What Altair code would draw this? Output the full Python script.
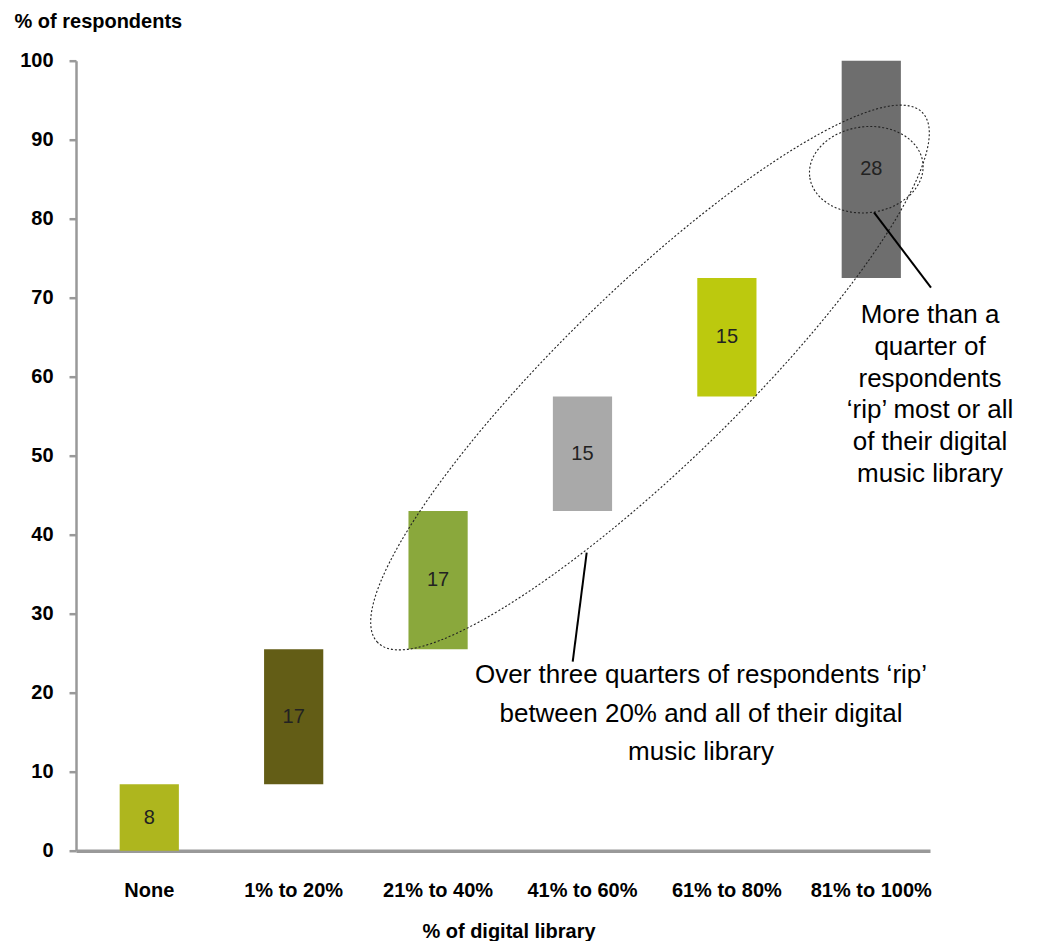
import altair as alt
import pandas as pd

# ---- data ----
categories = ["None", "1% to 20%", "21% to  40%", "41% to 60%", "61% to 80%", "81% to 100%"]
shares = [8.4, 17.1, 17.5, 14.5, 15.0, 27.5]
labels = ["8", "17", "17", "15", "15", "28"]
colors = ["#AEB61E", "#635D16", "#8AA83C", "#A9A9A9", "#BCC90E", "#6E6E6E"]
y_ticks = [0, 10, 20, 30, 40, 50, 60, 70, 80, 90, 100]

note_right = ["More than a", "quarter of", "respondents", "\u2018rip\u2019 most or all",
              "of their digital", "music library"]
note_bottom = ["Over three quarters of respondents \u2018rip\u2019",
               "between 20% and all of their digital", "music library"]

df = pd.DataFrame({"cat": categories, "share": shares, "label": labels, "color": colors})
df["end"] = df["share"].cumsum()
df["start"] = df["end"] - df["share"]
df["mid"] = (df["start"] + df["end"]) / 2

AX_FONT = "Liberation Sans, Arial, sans-serif"
TXT_FONT = "Liberation Sans, Arial, sans-serif"
AX_SIZE = 20

x_enc = alt.X(
    "cat:N", sort=categories,
    scale=alt.Scale(paddingInner=0.59, paddingOuter=0.252, align=0.6),
    axis=alt.Axis(
        title="% of digital library", labelAngle=0, ticks=False, tickSize=0,
        domainColor="#999999", domainWidth=3.5,
        labelPadding=45.5, labelBaseline="alphabetic", labelFont=AX_FONT,
        labelFontSize=AX_SIZE, labelFontWeight="bold", labelColor="black",
        labelOverlap=False, labelLimit=300,
        titleFont=AX_FONT, titleFontSize=AX_SIZE, titleFontWeight="bold", titleColor="black",
        titleX=432.5, titleY=86.5, titleBaseline="alphabetic", titleAlign="center",
    ),
)
y_scale = alt.Scale(domain=[0, 100], nice=False, zero=True)
y_axis = alt.Axis(
    values=y_ticks, grid=False, domainColor="#999999", domainWidth=2.5,
    tickColor="#999999", tickWidth=2.5, tickSize=7, labelPadding=16,
    labelFont=AX_FONT, labelFontSize=AX_SIZE, labelFontWeight="bold", labelColor="black",
    title="% of respondents", titleAngle=0, titleX=-62, titleY=-33.4,
    titleAlign="left", titleBaseline="alphabetic", titleFont=AX_FONT,
    titleFontSize=AX_SIZE, titleFontWeight="bold", titleColor="black",
)

base = alt.Chart(df)
bars = base.mark_bar().encode(
    x=x_enc,
    y=alt.Y("start:Q", scale=y_scale, axis=y_axis),
    y2="end:Q",
    color=alt.Color("color:N", scale=None),
)
bar_text = base.mark_text(font=TXT_FONT, fontSize=20, color="#222222").encode(
    x=alt.X("cat:N", sort=categories),
    y=alt.Y("mid:Q"),
    text="label:N",
)

one = pd.DataFrame({"k": [0]})

def ellipse_path(ratio):
    k = 0.5523
    b = ratio
    return (f"M-1,0 C-1,{-k*b} {-k},{-b} 0,{-b} C{k},{-b} 1,{-k*b} 1,0 "
            f"C1,{k*b} {k},{b} 0,{b} C{-k},{b} -1,{k*b} -1,0 Z")

big_ellipse = alt.Chart(one).mark_point(
    shape=ellipse_path(88 / 380), size=(2 * 380) ** 2, angle=315.8,
    filled=False, color="#222222", strokeWidth=1.1, strokeDash=[2, 2], opacity=1,
).encode(x=alt.value(574), y=alt.value(316.8))

small_ellipse = alt.Chart(one).mark_point(
    shape=ellipse_path(43 / 57), size=(2 * 57) ** 2, angle=353,
    filled=False, color="#222222", strokeWidth=1.1, strokeDash=[2, 2], opacity=1,
).encode(x=alt.value(790.3), y=alt.value(109))

rule_top = alt.Chart(one).mark_rule(color="black", strokeWidth=2).encode(
    x=alt.value(798), x2=alt.value(855), y=alt.value(151.6), y2=alt.value(227))
rule_bottom = alt.Chart(one).mark_rule(color="black", strokeWidth=2).encode(
    x=alt.value(510.7), x2=alt.value(496.7), y=alt.value(492), y2=alt.value(601))

txt_right = alt.Chart(one).mark_text(
    text=note_right, font=TXT_FONT, fontSize=26, align="center",
    baseline="alphabetic", lineHeight=31.7, color="black",
).encode(x=alt.value(854), y=alt.value(262.6))

txt_bottom = alt.Chart(one).mark_text(
    text=note_bottom, font=TXT_FONT, fontSize=26, align="center",
    baseline="alphabetic", lineHeight=38.4, color="black",
).encode(x=alt.value(625), y=alt.value(622.6))

chart = alt.layer(
    bars, bar_text, big_ellipse, small_ellipse, rule_top, rule_bottom, txt_right, txt_bottom
).properties(
    width=854, height=790,
    autosize=alt.AutoSizeParams(type="none"),
    padding={"left": 68, "top": 52.7, "right": 100, "bottom": 92},
    background="white",
).configure_view(stroke=None)

chart.save("out.html", embed_options={"renderer": "svg", "actions": False})
